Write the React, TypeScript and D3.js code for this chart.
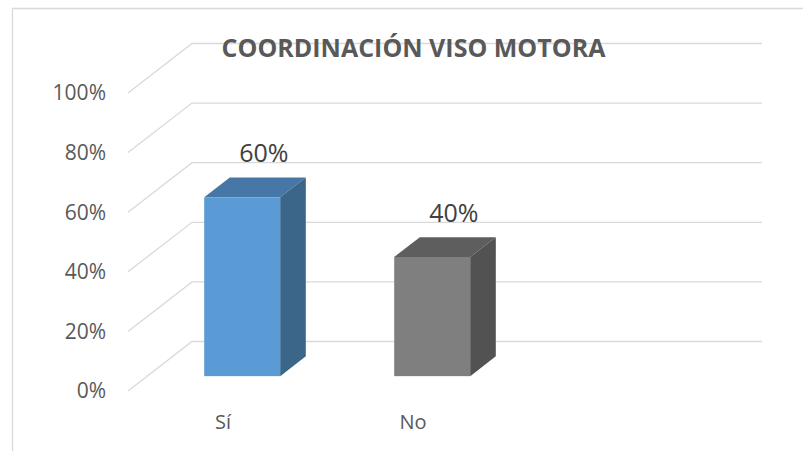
import React from 'react';
import * as d3 from 'd3';

// chart data
const categories = ['Sí', 'No', ''];
const values = [0.6, 0.4, null];
const ticks = [0, 0.2, 0.4, 0.6, 0.8, 1];
const title = 'COORDINACIÓN VISO MOTORA';

const frontColors = ['#5b9bd5', '#7f7f7f'];
const topColors = ['#4677a6', '#5e5e5e'];
const sideColors = ['#3b6589', '#525252'];

const W = 803;
const H = 451;
const font = '"Open Sans", "Liberation Sans", sans-serif';

// oblique depth of the floor
const DX = 64;
const DY = -49.5;
const d0 = 0.3;
const d1 = 0.7;

const App = () => {
  const x = d3.scaleBand<string>()
    .domain(categories.map((c, i) => c || `_${i}`))
    .range([128, 698])
    .paddingInner(0.6)
    .paddingOuter(0.3);

  const y = d3.scaleLinear().domain([0, 1]).range([391, 93]);
  const fmt = d3.format('.0%');

  const bars = categories.map((c, i) => ({ key: c || `_${i}`, label: c, v: values[i], i }))
    .filter(d => d.v != null);

  return (
    <svg width={W} height={H} style={{ position: 'absolute', left: 0, top: 0 }} fontFamily={font}>
      <rect x={0} y={0} width={W} height={H} fill="#fff" />
      {/* chart frame */}
      <path d={`M12.5,${H}V8.5H${W}`} fill="none" stroke="#d9d9d9" strokeWidth={1.3} />

      {/* gridlines: side wall diagonals + back wall */}
      {ticks.map(t => (
        <g key={t}>
          <path
            d={`M128,${y(t)}L${128 + DX},${y(t) + DY}H${698 + DX}`}
            fill="none"
            stroke="#d9d9d9"
            strokeWidth={1.3}
          />
          <text x={106} y={y(t)} dy="0.35em" textAnchor="end" fontSize={21} fill="#595959">
            {fmt(t)}
          </text>
        </g>
      ))}

      {/* bars */}
      {bars.map(d => {
        const x0 = x(d.key)! + d0 * DX;
        const x1 = x0 + x.bandwidth();
        const yb = y(0) + d0 * DY;
        const yt = y(d.v as number) + d0 * DY;
        const ddx = (d1 - d0) * DX;
        const ddy = (d1 - d0) * DY;
        return (
          <g key={d.key}>
            <rect x={x0} y={yt} width={x1 - x0} height={yb - yt} fill={frontColors[d.i]} />
            <path
              d={`M${x0},${yt}L${x0 + ddx},${yt + ddy}H${x1 + ddx}L${x1},${yt}Z`}
              fill={topColors[d.i]}
            />
            <path
              d={`M${x1},${yt}L${x1 + ddx},${yt + ddy}V${yb + ddy}L${x1},${yb}Z`}
              fill={sideColors[d.i]}
            />
            <text
              x={(x0 + x1) / 2 + ddx - 4}
              y={yt + ddy - 24}
              dy="0.35em"
              textAnchor="middle"
              fontSize={25}
              fill="#404040"
            >
              {fmt(d.v as number)}
            </text>
          </g>
        );
      })}

      {/* category labels */}
      {categories.map((c, i) => (
        <text
          key={i}
          x={x(c || `_${i}`)! + x.bandwidth() / 2}
          y={422}
          dy="0.35em"
          textAnchor="middle"
          fontSize={20}
          fill="#595959"
        >
          {c}
        </text>
      ))}

      <text x={413.5} y={48} dy="0.35em" textAnchor="middle" fontSize={25} fontWeight="bold" fill="#595959">
        {title}
      </text>
    </svg>
  );
};

export default App;
